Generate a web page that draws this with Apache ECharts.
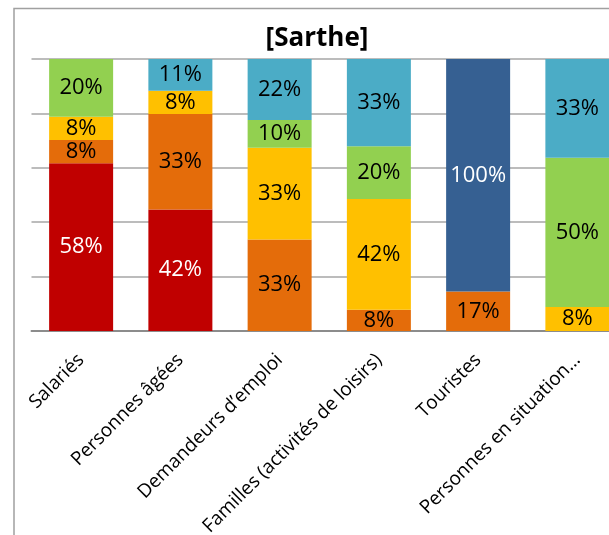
<!DOCTYPE html>
<html><head><meta charset="utf-8">
<script src="https://cdn.jsdelivr.net/npm/echarts@6/dist/echarts.min.js"></script>
<style>html,body{margin:0;padding:0;background:#fff}#c{width:609px;height:535px}</style>
</head><body><div id="c"></div>
<script>
const categories = ["Salariés","Personnes âgées","Demandeurs d’emploi","Familles (activités de loisirs)","Touristes","Personnes en situation…"];
const seriesNames = ["S1","S2","S3","S4","S5","S6"];
const s1 = [58, 42, 0, 0, 0, 0];
const s2 = [8, 33, 33, 8, 17, 0];
const s3 = [8, 8, 33, 42, 0, 8];
const s4 = [20, 0, 10, 20, 0, 50];
const s5 = [0, 11, 22, 33, 0, 33];
const s6 = [0, 0, 0, 0, 100, 0];
const colors = ["#C00000","#E46C0A","#FFC000","#92D050","#4BACC6","#366092"];
const labelColors = ["#fff","#000","#000","#000","#000","#fff"];
const raw = [s1,s2,s3,s4,s5,s6];
const totals = categories.map((_, i) => raw.reduce((a, s) => a + s[i], 0));
const FONT = "Open Sans";
const series = raw.map((arr, k) => ({
  name: seriesNames[k], type: 'bar', stack: 'all', barWidth: 64,
  itemStyle: {color: colors[k]},
  data: arr.map((v, i) => ({value: v / totals[i] * 100, raw: v})),
  label: {show: true, position: 'inside', color: labelColors[k], fontFamily: FONT, fontSize: 22,
    formatter: p => p.data.raw ? p.data.raw + '%' : ''}
}));
const chart = echarts.init(document.getElementById('c'));
chart.setOption({
  animation: false,
  title: {text: '[Sarthe]', left: 312, top: 21, textAlign: 'center',
    textStyle: {fontFamily: FONT, fontWeight: 'bold', fontSize: 26, color: '#000'}},
  grid: {left: 31.5, top: 59, right: -18, bottom: 204, outerBoundsMode: 'none', containLabel: false},
  xAxis: {type: 'category', data: categories,
    axisLine: {lineStyle: {color: '#8c8c8c', width: 2}}, axisTick: {show: false},
    axisLabel: {rotate: 45, interval: 0, margin: 26, fontFamily: FONT, fontSize: 19, color: '#000'}},
  yAxis: {type: 'value', min: 0, max: 100, interval: 20,
    axisLabel: {show: false}, axisLine: {show: false}, axisTick: {show: false},
    splitLine: {lineStyle: {color: '#a6a6a6', width: 1.5}}},
  graphic: [{type: 'polyline', shape: {points: [[14, 540], [14, 8.5], [620, 8.5]]},
    style: {stroke: '#a0a0a0', lineWidth: 1.5, fill: null}, silent: true}],
  series: series
});
</script></body></html>
